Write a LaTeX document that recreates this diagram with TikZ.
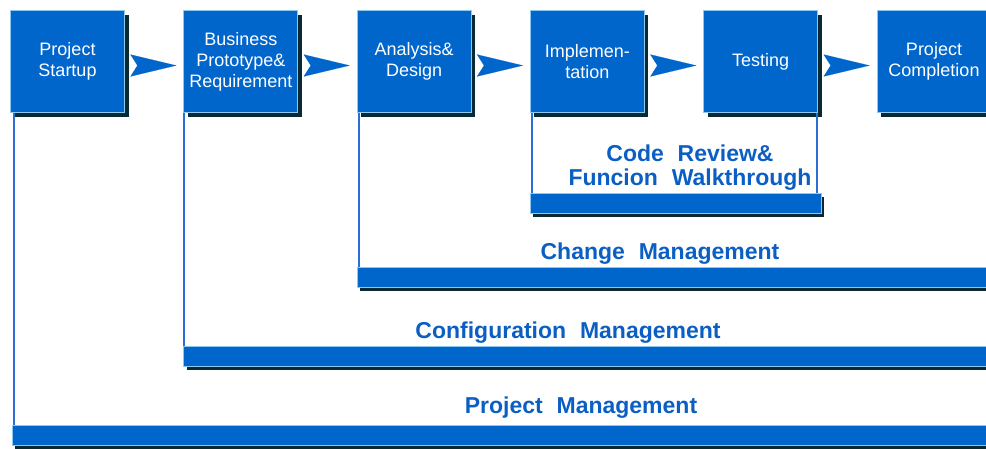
\documentclass[tikz,border=0pt]{standalone}
\usepackage{fontspec}
\setmainfont{Liberation Sans}
\usetikzlibrary{positioning,shadows,arrows.meta}

\definecolor{boxblue}{HTML}{0066CC}
\definecolor{textblue}{HTML}{0B5FC4}
\definecolor{edgeblue}{HTML}{8CC8F0}
\definecolor{shadowdark}{HTML}{0A2A33}
\definecolor{stemblue}{HTML}{2A6FD8}

\tikzset{
	phase/.style={fill=boxblue, draw=edgeblue, line width=0.8pt,
	              text=white, minimum width=114pt, minimum height=102pt,
	              inner sep=0pt, text width=112pt, align=center,
	              font=\fontsize{18}{21}\selectfont,
	              drop shadow={shadow xshift=4pt, shadow yshift=-4pt,
	                           fill=shadowdark, opacity=1}},
	bar/.style={fill=boxblue, draw=edgeblue, line width=0.8pt,
	            minimum height=20pt, inner sep=0pt, anchor=north west,
	            drop shadow={shadow xshift=3pt, shadow yshift=-4pt,
	                         fill=shadowdark, opacity=1}},
	chev/.style={draw=boxblue, line width=0.1pt,
	             -{Stealth[length=46pt, width=22pt, inset=7pt]},
	             shorten <=13pt, shorten >=7pt},
	stem/.style={stemblue, line width=2pt},
	mgmt/.style={text=textblue, align=center, inner sep=0pt,
	             font=\bfseries\fontsize{23}{24}\selectfont}
}

\begin{document}
\begin{tikzpicture}[x=1pt, y=-1pt]
	\useasboundingbox (0,0) rectangle (986,448);
	\clip (0,0) rectangle (986,448);
	\def\gap{58.5pt}

	% Phases
	\node[phase] (ps) at (67.5,61.5) {Project\\Startup};
	\node[phase, right=\gap of ps] (bp) {Business\\Prototype\&\\Requirement};
	\node[phase, right=\gap of bp] (ad) {Analysis\&\\Design};
	\node[phase, right=\gap of ad] (im) {Implemen-\\tation};
	\node[phase, right=\gap of im] (ts) {Testing};
	\node[phase, right=\gap of ts] (pc) {Project\\Completion};

	% Arrows between phases
	\foreach \a/\b in {ps/bp, bp/ad, ad/im, im/ts, ts/pc}{
		\draw[chev] ([yshift=-4pt]\a.east) -- ([yshift=-4pt]\b.west);
	}

	% Bars
	\node[bar, minimum width=291pt] (crbar) at (im.west |- 0,193) {};
	\node[bar, minimum width=640pt] (cmbar) at (ad.west |- 0,267) {};
	\node[bar, minimum width=820pt] (cfbar) at (bp.west |- 0,346) {};
	\node[bar, minimum width=990pt] (pmbar) at (12,425) {};

	% Stems down to the bars
	\draw[stem] ([xshift=4pt]ps.south west)
	         -- ([xshift=4pt]ps.south west |- pmbar.north);
	\draw[stem] ([xshift=1pt]bp.south west)
	         -- ([xshift=1pt]bp.south west |- cfbar.north);
	\draw[stem] ([xshift=2pt]ad.south west)
	         -- ([xshift=2pt]ad.south west |- cmbar.north);
	\draw[stem] ([xshift=2pt]im.south west)
	         -- ([xshift=2pt]im.south west |- crbar.north);
	\draw[stem] ([xshift=-1pt]ts.south east)
	         -- ([xshift=-1pt]ts.south east |- crbar.north);

	% Labels
	\node[mgmt] (crtext) at (690,168)
	      {Code\hspace{0.6em}Review\&\\Funcion\hspace{0.6em}Walkthrough};
	\node[mgmt] (cmtext) at (660,254) {Change\hspace{0.6em}Management};
	\node[mgmt] (cftext) at (568,333) {Configuration\hspace{0.6em}Management};
	\node[mgmt] (pmtext) at (581,408) {Project\hspace{0.6em}Management};
\end{tikzpicture}
\end{document}
